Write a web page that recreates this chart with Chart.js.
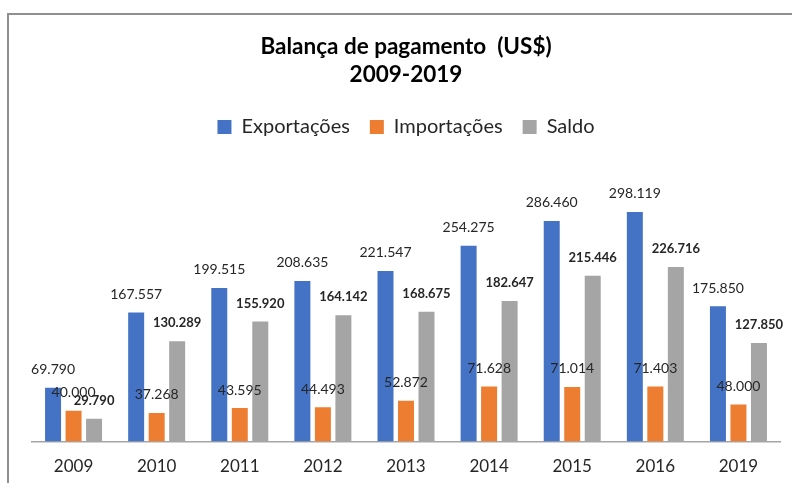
<!DOCTYPE html>
<html>
<head>
<meta charset="utf-8">
<script src="https://cdn.jsdelivr.net/npm/chart.js@4.4.1/dist/chart.umd.min.js"></script>
<style>
    body { margin: 0; background: #fff; }
    #wrap { position: relative; width: 792px; height: 483px; overflow: hidden; }
    #frame { position: absolute; left: 7px; top: 13px; width: 900px; height: 600px; border-left: 2px solid #8f8f8f; border-top: 2px solid #8f8f8f; }
    canvas { position: absolute; left: 0; top: 0; }
</style>
</head>
<body>
<div id="wrap">
    <div id="frame"></div>
    <canvas id="chart" width="792" height="483"></canvas>
</div>
<script>
const years = ['2009', '2010', '2011', '2012', '2013', '2014', '2015', '2016', '2019'];
const exportacoes = [69790, 167557, 199515, 208635, 221547, 254275, 286460, 298119, 175850];
const importacoes = [40000, 37268, 43595, 44493, 52872, 71628, 71014, 71403, 48000];
const saldo = [29790, 130289, 155920, 164142, 168675, 182647, 215446, 226716, 127850];

const fontName = 'Lato, "Open Sans", sans-serif';

function formatNumber(v) {
    return String(v).replace(/\B(?=(\d{3})+(?!\d))/g, '.');
}

// labels drawn above each bar, Saldo in bold
const barLabels = {
    id: 'barLabels',
    afterDatasetsDraw(chart) {
        const ctx = chart.ctx;
        ctx.save();
        ctx.fillStyle = '#262626';
        ctx.textAlign = 'center';
        ctx.textBaseline = 'middle';
        chart.data.datasets.forEach((ds, i) => {
            const meta = chart.getDatasetMeta(i);
            ctx.font = i === 2 ? 'bold 13px ' + fontName : '14px ' + fontName;
            meta.data.forEach((bar, j) => {
                ctx.fillText(formatNumber(ds.data[j]), bar.x, bar.y - 18);
            });
        });
        ctx.restore();
    }
};

// extra room between legend and bars
const legendGap = {
    id: 'legendGap',
    beforeInit(chart) {
        const fit = chart.legend.fit;
        chart.legend.fit = function () {
            fit.bind(chart.legend)();
            this.height += 25;
        };
    }
};

new Chart(document.getElementById('chart'), {
    type: 'bar',
    data: {
        labels: years,
        datasets: [
            { label: 'Exportações', data: exportacoes, backgroundColor: '#4472C4' },
            { label: 'Importações', data: importacoes, backgroundColor: '#ED7D31' },
            { label: 'Saldo', data: saldo, backgroundColor: '#A5A5A5' },
        ],
    },
    options: {
        responsive: false,
        animation: false,
        layout: { padding: { left: 32, right: 12, top: 0, bottom: -9 } },
        datasets: {
            bar: { categoryPercentage: 0.74, barPercentage: 0.78 },
        },
        plugins: {
            title: {
                display: true,
                text: ['Balança de pagamento  (US$)', '2009-2019'],
                color: '#000',
                font: { family: fontName, size: 22.5, weight: 'bold', lineHeight: 1.244 },
                padding: { top: 33, bottom: 8 },
            },
            legend: {
                display: true,
                labels: {
                    color: '#262626',
                    font: { family: fontName, size: 20 },
                    boxWidth: 14,
                    boxHeight: 14,
                    padding: 20,
                },
            },
            tooltip: { enabled: false },
        },
        scales: {
            x: {
                grid: { display: false, drawTicks: false },
                border: { display: true, color: '#a6a6a6', width: 1.5 },
                ticks: { color: '#262626', font: { family: fontName, size: 17 }, padding: 15 },
            },
            y: {
                display: false,
                min: 0,
                max: 350000,
            },
        },
    },
    plugins: [barLabels, legendGap],
});
</script>
</body>
</html>
